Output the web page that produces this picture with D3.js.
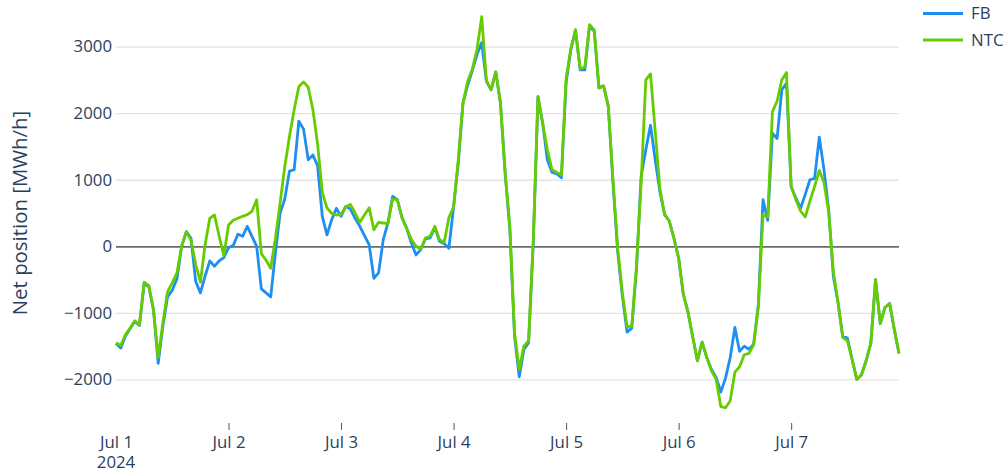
<!DOCTYPE html>
<html>
<head>
<meta charset="utf-8">
<script src="https://cdn.jsdelivr.net/npm/d3@7"></script>
<style>
  body { margin: 0; background: #fff; }
  svg { display: block; font-family: "Open Sans", verdana, arial, sans-serif; }
</style>
</head>
<body>
<div class="chart"></div>
<script>
// hourly net position, Jul 1 00:00 .. Jul 7 23:00 2024
var startDate = new Date(2024, 6, 1, 0, 0);

var fbValues = [
  -1460, -1530, -1350, -1240, -1130, -1190, -560, -610, -960, -1760, -1200, -760, -660, -490, 0, 220, 120, -530, -700, -450, -220, -300, -220, -170,
  -20, 10, 180, 150, 300, 150, 0, -640, -700, -760, -100, 500, 710, 1130, 1150, 1880, 1760, 1300, 1370, 1210, 450, 170, 400, 570,
  450, 600, 560, 420, 300, 160, 20, -480, -400, 100, 350, 750, 700, 430, 270, 50, -130, -50, 110, 125, 280, 75, 40, -30,
  590, 1250, 2150, 2420, 2640, 2880, 3060, 2480, 2350, 2620, 2150, 1100, 250, -1350, -1960, -1550, -1450, 50, 2250, 1850, 1300, 1110, 1090, 1030,
  2460, 2950, 3250, 2650, 2650, 3310, 3230, 2380, 2410, 2100, 950, -80, -750, -1290, -1230, -350, 1050, 1450, 1820, 1300, 820, 480, 380, 120,
  -180, -720, -990, -1360, -1720, -1440, -1670, -1850, -1970, -2190, -1980, -1670, -1220, -1580, -1500, -1550, -1470, -880, 700, 390, 1700, 1620, 2350, 2450,
  890, 730, 570, 780, 1000, 1020, 1640, 1150, 550, -450, -850, -1350, -1380, -1700, -2000, -1930, -1720, -1450, -500, -1160, -920, -860, -1250, -1610
];

var ntcValues = [
  -1450, -1490, -1330, -1230, -1120, -1180, -540, -590, -950, -1670, -1150, -680, -550, -400, 0, 220, 90, -270, -540, 20, 420, 470, 150, -140,
  320, 390, 420, 450, 475, 525, 700, -110, -210, -330, 120, 650, 1200, 1650, 2050, 2400, 2470, 2390, 2050, 1530, 810, 575, 495, 470,
  480, 590, 630, 500, 360, 470, 580, 250, 360, 350, 340, 710, 700, 430, 270, 100, 0, -40, 125, 150, 300, 100, 60, 430,
  590, 1300, 2150, 2480, 2660, 2960, 3450, 2490, 2350, 2620, 2150, 1100, 300, -1300, -1850, -1500, -1420, 100, 2250, 1850, 1450, 1150, 1110, 1070,
  2520, 2960, 3250, 2670, 2690, 3330, 3250, 2380, 2410, 2100, 1000, -30, -700, -1210, -1200, -300, 950, 2500, 2590, 1730, 870, 480, 380, 120,
  -180, -720, -990, -1360, -1720, -1440, -1670, -1870, -2000, -2410, -2425, -2320, -1890, -1810, -1630, -1610, -1480, -910, 470, 440, 2020, 2180, 2500, 2610,
  900, 700, 530, 440, 680, 900, 1140, 960, 520, -380, -850, -1370, -1420, -1700, -2000, -1930, -1720, -1450, -500, -1160, -920, -860, -1250, -1610
];

var seriesNames = ["FB", "NTC"];
var seriesColors = ["#1f8ef1", "#66cc00"];
var yTicks = [-2000, -1000, 0, 1000, 2000, 3000];
var dayTicks = [1, 2, 3, 4, 5, 6, 7];
var yearLabel = "2024";

var width = 1008, height = 476;
var margin = {left: 116, right: 109, top: 10, bottom: 53};
var fontSize = 16.8;

var times = fbValues.map(function (d, i) { return d3.timeHour.offset(startDate, i); });

var x = d3.scaleTime()
    .domain([times[0], times[times.length - 1]])
    .range([margin.left, width - margin.right]);

var y = d3.scaleLinear()
    .domain([-2655, 3550])
    .range([height - margin.bottom, margin.top]);

var svg = d3.select(".chart").append("svg")
    .attr("width", width)
    .attr("height", height);

// grid + y labels
var yAxis = svg.append("g")
    .attr("transform", "translate(" + margin.left + ",0)")
    .call(d3.axisLeft(y)
        .tickValues(yTicks)
        .tickSize(-(width - margin.left - margin.right))
        .tickPadding(4)
        .tickFormat(d3.format("d")));
yAxis.select(".domain").remove();
yAxis.selectAll(".tick line")
    .attr("stroke", function (d) { return d === 0 ? "#6b6b6b" : "#e3e3e3"; })
    .attr("stroke-width", function (d) { return d === 0 ? 1.8 : 1.4; });
yAxis.selectAll(".tick text")
    .attr("fill", "#2a3f5f")
    .style("font-size", fontSize + "px")
    .style("font-family", "'Open Sans', verdana, arial, sans-serif");

// x axis
var xAxis = svg.append("g")
    .attr("transform", "translate(0," + (height - margin.bottom) + ")")
    .call(d3.axisBottom(x)
        .tickValues(dayTicks.map(function (d) { return new Date(2024, 6, d); }))
        .tickSize(7)
        .tickFormat(d3.timeFormat("%b %-d")));
xAxis.select(".domain").remove();
xAxis.selectAll(".tick line")
    .attr("stroke", "#555")
    .attr("stroke-width", 1)
    .attr("opacity", function (d, i) { return i === 0 ? 0 : 1; });
xAxis.selectAll(".tick text")
    .attr("y", 25)
    .attr("dy", 0)
    .attr("fill", "#2a3f5f")
    .style("font-size", fontSize + "px")
    .style("font-family", "'Open Sans', verdana, arial, sans-serif");

svg.append("text")
    .attr("x", x(startDate))
    .attr("y", height - margin.bottom + 45)
    .attr("text-anchor", "middle")
    .attr("fill", "#2a3f5f")
    .style("font-size", fontSize + "px")
    .text(yearLabel);

// y title
svg.append("text")
    .attr("transform", "translate(27," + 213 + ") rotate(-90)")
    .attr("text-anchor", "middle")
    .attr("fill", "#2a3f5f")
    .style("font-size", "20.4px")
    .text("Net position [MWh/h]");

// lines
var line = d3.line()
    .x(function (d, i) { return x(times[i]); })
    .y(function (d) { return y(d); });

var allSeries = [fbValues, ntcValues];
svg.append("g").selectAll("path")
    .data(allSeries)
    .enter()
    .append("path")
    .attr("d", line)
    .attr("fill", "none")
    .attr("stroke", function (d, i) { return seriesColors[i]; })
    .attr("stroke-width", 2.8)
    .attr("stroke-linejoin", "round");

// legend
var legend = svg.append("g").selectAll("g")
    .data(seriesNames)
    .enter()
    .append("g")
    .attr("transform", function (d, i) { return "translate(923," + (13.5 + i * 26.5) + ")"; });
legend.append("line")
    .attr("x1", 0).attr("x2", 40)
    .attr("stroke", function (d, i) { return seriesColors[i]; })
    .attr("stroke-width", 2.8);
legend.append("text")
    .attr("x", 48)
    .attr("dy", "0.35em")
    .attr("fill", "#2a3f5f")
    .style("font-size", fontSize + "px")
    .text(function (d) { return d; });
</script>
</body>
</html>
